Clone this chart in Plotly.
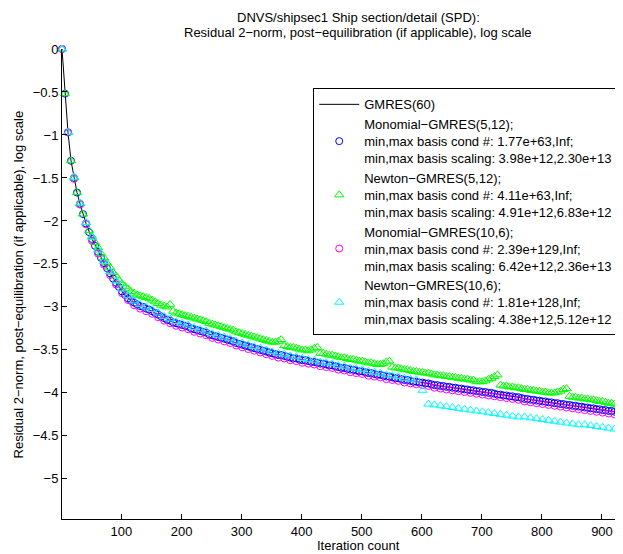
import plotly.graph_objects as go

# ---------------- data ----------------
# GMRES(60): iterations 1..36 every 5, then every 10
gmres_iters = list(range(1, 41, 5)) + list(range(41, 932, 10))
gmres_res = [0.00, -0.52, -0.97, -1.30, -1.50, -1.67, -1.80, -1.92,
             -2.03, -2.21, -2.36, -2.49, -2.61, -2.72, -2.82, -2.90, -2.95, -2.99,
             -3.02, -3.05, -3.09, -3.13, -3.16, -3.19, -3.21, -3.23, -3.26, -3.28,
             -3.30, -3.33, -3.35, -3.37, -3.39, -3.42, -3.44, -3.46, -3.48, -3.50,
             -3.52, -3.54, -3.56, -3.57, -3.59, -3.60, -3.62, -3.63, -3.64, -3.66,
             -3.67, -3.68, -3.70, -3.71, -3.73, -3.74, -3.75, -3.77, -3.78, -3.79,
             -3.81, -3.82, -3.83, -3.85, -3.86, -3.87, -3.88, -3.89, -3.91, -3.92,
             -3.93, -3.94, -3.95, -3.96, -3.97, -3.98, -3.99, -4.00, -4.01, -4.02,
             -4.03, -4.04, -4.05, -4.07, -4.08, -4.09, -4.10, -4.11, -4.12, -4.13,
             -4.14, -4.15, -4.16, -4.17, -4.18, -4.19, -4.20, -4.21, -4.22, -4.23]

# Monomial-GMRES(5,12): one point every 5 iterations starting at 1
mono5_res = [0.00, -0.52, -0.97, -1.30, -1.50, -1.67, -1.80, -1.92, -2.03, -2.13,
             -2.21, -2.29, -2.36, -2.43, -2.49, -2.55, -2.61, -2.67, -2.72, -2.77,
             -2.82, -2.86, -2.90, -2.93, -2.95, -2.97, -2.99, -3.00, -3.02, -3.03,
             -3.05, -3.07, -3.09, -3.11, -3.13, -3.15, -3.16, -3.18, -3.19, -3.20,
             -3.21, -3.22, -3.23, -3.25, -3.26, -3.27, -3.28, -3.29, -3.30, -3.32,
             -3.33, -3.34, -3.35, -3.36, -3.37, -3.38, -3.39, -3.40, -3.42, -3.43,
             -3.44, -3.45, -3.46, -3.47, -3.48, -3.49, -3.50, -3.51, -3.52, -3.53,
             -3.54, -3.55, -3.56, -3.56, -3.57, -3.58, -3.59, -3.60, -3.60, -3.61,
             -3.62, -3.62, -3.63, -3.64, -3.64, -3.65, -3.66, -3.66, -3.67, -3.68,
             -3.68, -3.69, -3.70, -3.71, -3.71, -3.72, -3.73, -3.73, -3.74, -3.75,
             -3.75, -3.76, -3.77, -3.77, -3.78, -3.79, -3.79, -3.80, -3.81, -3.81,
             -3.82, -3.83, -3.83, -3.84, -3.85, -3.85, -3.86, -3.87, -3.87, -3.88,
             -3.88, -3.89, -3.89, -3.90, -3.91, -3.91, -3.92, -3.92, -3.93, -3.93,
             -3.94, -3.94, -3.95, -3.95, -3.96, -3.96, -3.97, -3.97, -3.98, -3.98,
             -3.99, -3.99, -4.00, -4.00, -4.01, -4.02, -4.02, -4.03, -4.03, -4.04,
             -4.04, -4.05, -4.05, -4.06, -4.07, -4.07, -4.08, -4.08, -4.09, -4.09,
             -4.10, -4.10, -4.11, -4.11, -4.12, -4.12, -4.13, -4.13, -4.14, -4.14,
             -4.15, -4.15, -4.16, -4.16, -4.17, -4.17, -4.18, -4.18, -4.19, -4.19,
             -4.20, -4.20, -4.21, -4.21, -4.22, -4.22, -4.23]

# Newton-GMRES(5,12): one point every 5 iterations starting at 1
newton5_res = [0.00, -0.52, -0.97, -1.30, -1.50, -1.67, -1.80, -1.92, -2.02, -2.11,
               -2.18, -2.25, -2.31, -2.38, -2.43, -2.49, -2.54, -2.60, -2.64, -2.69,
               -2.73, -2.76, -2.79, -2.82, -2.84, -2.86, -2.87, -2.88, -2.89, -2.90,
               -2.92, -2.94, -2.96, -2.98, -2.99, -3.00, -2.97, -3.05, -3.07, -3.08,
               -3.09, -3.10, -3.11, -3.12, -3.13, -3.14, -3.15, -3.16, -3.17, -3.19,
               -3.20, -3.21, -3.22, -3.23, -3.24, -3.25, -3.26, -3.27, -3.29, -3.30,
               -3.31, -3.32, -3.33, -3.34, -3.35, -3.36, -3.37, -3.38, -3.39, -3.40,
               -3.41, -3.41, -3.40, -3.38, -3.45, -3.46, -3.47, -3.47, -3.48, -3.49,
               -3.50, -3.50, -3.51, -3.50, -3.48, -3.47, -3.54, -3.54, -3.55, -3.56,
               -3.56, -3.57, -3.58, -3.59, -3.59, -3.60, -3.61, -3.61, -3.62, -3.63,
               -3.63, -3.64, -3.65, -3.65, -3.66, -3.67, -3.67, -3.66, -3.64, -3.63,
               -3.70, -3.71, -3.71, -3.72, -3.73, -3.73, -3.74, -3.75, -3.75, -3.76,
               -3.76, -3.77, -3.77, -3.78, -3.79, -3.79, -3.80, -3.80, -3.81, -3.81,
               -3.82, -3.82, -3.83, -3.83, -3.84, -3.84, -3.85, -3.85, -3.87, -3.87,
               -3.87, -3.86, -3.84, -3.83, -3.81, -3.79, -3.91, -3.92, -3.92, -3.93,
               -3.93, -3.94, -3.94, -3.95, -3.96, -3.96, -3.97, -3.97, -3.98, -3.98,
               -3.99, -3.99, -4.00, -4.00, -4.00, -3.99, -3.98, -3.96, -3.95, -4.04,
               -4.05, -4.05, -4.06, -4.06, -4.07, -4.07, -4.08, -4.08, -4.09, -4.10,
               -4.10, -4.11, -4.12, -4.12, -4.13, -4.14, -4.14]

# Monomial-GMRES(10,6): one point every 10 iterations starting at 1
mono10_res = [0.00, -0.97, -1.51, -1.81, -2.04, -2.23, -2.38, -2.51, -2.63, -2.74,
              -2.84, -2.92, -2.98, -3.02, -3.05, -3.08, -3.12, -3.16, -3.19, -3.22,
              -3.24, -3.26, -3.29, -3.31, -3.33, -3.36, -3.38, -3.40, -3.42, -3.45,
              -3.47, -3.49, -3.51, -3.53, -3.55, -3.57, -3.59, -3.60, -3.62, -3.63,
              -3.65, -3.66, -3.67, -3.69, -3.70, -3.71, -3.73, -3.74, -3.76, -3.77,
              -3.78, -3.80, -3.81, -3.82, -3.84, -3.85, -3.86, -3.88, -3.89, -3.90,
              -3.91, -3.92, -3.94, -3.95, -3.96, -3.97, -3.98, -3.99, -4.00, -4.01,
              -4.02, -4.03, -4.04, -4.05, -4.06, -4.07, -4.08, -4.10, -4.11, -4.12,
              -4.13, -4.14, -4.15, -4.16, -4.17, -4.18, -4.19, -4.20, -4.21, -4.22,
              -4.23, -4.24, -4.25, -4.26]

# Newton-GMRES(10,6): one point every 10 iterations starting at 1
newton10_res = [0.00, -0.97, -1.49, -1.79, -2.02, -2.19, -2.34, -2.47, -2.59, -2.70,
                -2.79, -2.87, -2.93, -2.97, -3.00, -3.03, -3.07, -3.11, -3.14, -3.17,
                -3.19, -3.21, -3.24, -3.26, -3.28, -3.31, -3.33, -3.35, -3.37, -3.40,
                -3.42, -3.44, -3.46, -3.48, -3.50, -3.52, -3.54, -3.55, -3.57, -3.58,
                -3.60, -3.61, -3.62, -3.64, -3.65, -3.66, -3.68, -3.69, -3.71, -3.72,
                -3.73, -3.75, -3.76, -3.77, -3.79, -3.80, -3.81, -3.83, -3.84, -3.85,
                -3.97, -4.13, -4.14, -4.15, -4.16, -4.17, -4.18, -4.19, -4.20, -4.21,
                -4.22, -4.23, -4.24, -4.25, -4.26, -4.27, -4.28, -4.28, -4.29, -4.30,
                -4.31, -4.32, -4.33, -4.34, -4.35, -4.36, -4.37, -4.37, -4.38, -4.39,
                -4.40, -4.41, -4.42, -4.43]

x_ticks = [100, 200, 300, 400, 500, 600, 700, 800, 900]
y_ticks = [0, -0.5, -1, -1.5, -2, -2.5, -3, -3.5, -4, -4.5, -5]

names = [
    "GMRES(60)",
    "Monomial\u2212GMRES(5,12);<br>min,max basis cond #: 1.77e+63,Inf;<br>min,max basis scaling: 3.98e+12,2.30e+13",
    "Newton\u2212GMRES(5,12);<br>min,max basis cond #: 4.11e+63,Inf;<br>min,max basis scaling: 4.91e+12,6.83e+12",
    "Monomial\u2212GMRES(10,6);<br>min,max basis cond #: 2.39e+129,Inf;<br>min,max basis scaling: 6.42e+12,2.36e+13",
    "Newton\u2212GMRES(10,6);<br>min,max basis cond #: 1.81e+128,Inf;<br>min,max basis scaling: 4.38e+12,5.12e+12",
]
title_lines = ["DNVS/shipsec1 Ship section/detail (SPD):",
               "Residual 2\u2212norm, post\u2212equilibration (if applicable), log scale"]
x_label = "Iteration count"
y_label = "Residual 2\u2212norm, post\u2212equilibration (if applicable), log scale"

iters5 = [1 + 5 * i for i in range(len(mono5_res))]
iters10 = [1 + 10 * i for i in range(len(mono10_res))]

FONT = "Liberation Sans, Arial, Helvetica, sans-serif"
FS = 13

fig = go.Figure()
fig.add_trace(go.Scatter(x=gmres_iters, y=gmres_res, mode="lines", name=names[0],
                         line=dict(color="black", width=1)))
fig.add_trace(go.Scatter(x=iters5, y=mono5_res, mode="markers", name=names[1], cliponaxis=False,
                         marker=dict(symbol="circle-open", size=7, color="#0000ff", line=dict(width=1))))
fig.add_trace(go.Scatter(x=iters5, y=newton5_res, mode="markers", name=names[2], cliponaxis=False,
                         marker=dict(symbol="triangle-up-open", size=8, color="#00ff00", line=dict(width=1))))
fig.add_trace(go.Scatter(x=iters10, y=mono10_res, mode="markers", name=names[3], cliponaxis=False,
                         marker=dict(symbol="circle-open", size=7, color="#ff00ff", line=dict(width=1))))
fig.add_trace(go.Scatter(x=iters10, y=newton10_res, mode="markers", name=names[4], cliponaxis=False,
                         marker=dict(symbol="triangle-up-open", size=8, color="#00ffff", line=dict(width=1))))

# the page body has an 8px margin: figure coords = page coords - 8
OFF = 8
W, H = 623 - OFF, 554 - OFF
L, R, T, B = 61.6 - OFF, 623.0 - OFF, 48.6 - OFF, 518.8 - OFF
pw, ph = R - L, B - T

def px_x(px):
    return (px - OFF - L) / pw

def px_y(py):
    return (B - (py - OFF)) / ph

def txt(text, x, y, **kw):
    d = dict(text=text, xref="paper", yref="paper", x=x, y=y, xanchor="center",
             yanchor="middle", showarrow=False, font=dict(family=FONT, size=FS, color="black"))
    d.update(kw)
    return d

fig.update_layout(
    width=W, height=H,
    margin=dict(l=L, r=W - R, t=T, b=H - B, pad=0),
    paper_bgcolor="white", plot_bgcolor="white",
    font=dict(family=FONT, size=FS, color="black"),
    showlegend=True,
    legend=dict(x=px_x(313), y=px_y(88), xanchor="left", yanchor="top",
                bordercolor="black", borderwidth=1, bgcolor="white",
                font=dict(family=FONT, size=FS, color="black"), itemwidth=40,
                tracegroupgap=0),
    xaxis=dict(range=[1, 935], tickmode="array", tickvals=x_ticks, ticks="inside", ticklen=5,
               tickcolor="black", showline=True, linecolor="black", linewidth=1, mirror=False,
               showgrid=False, zeroline=False, tickfont=dict(family=FONT, size=FS)),
    yaxis=dict(range=[-5.467, 0], tickmode="array", tickvals=y_ticks, ticks="inside", ticklen=5,
               tickcolor="black", showline=True, linecolor="black", linewidth=1, mirror=False,
               showgrid=False, zeroline=False, tickfont=dict(family=FONT, size=FS)),
    annotations=[
        txt(title_lines[0], px_x(358), px_y(17)),
        txt(title_lines[1], px_x(358), px_y(32)),
        txt(x_label, px_x(358), px_y(545)),
        txt(y_label, px_x(18), 0.5, textangle=-90),
    ],
)

fig.write_html("out.html")
